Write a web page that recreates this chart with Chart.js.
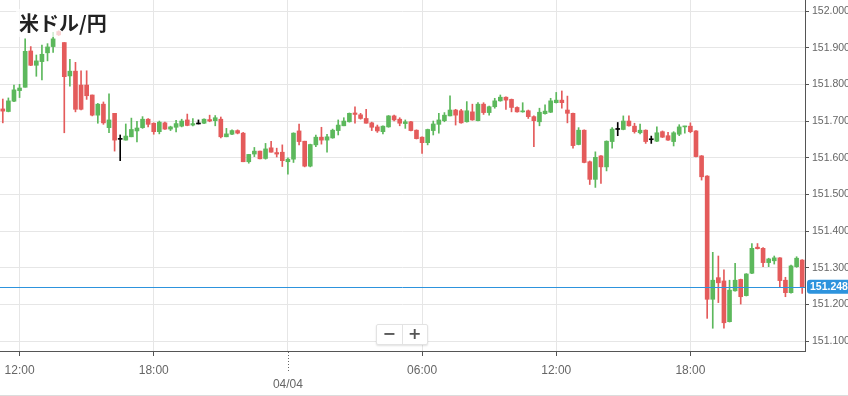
<!DOCTYPE html>
<html>
<head>
<meta charset="utf-8">
<script src="https://cdn.jsdelivr.net/npm/chart.js@4.4.1/dist/chart.umd.min.js"></script>
<style>
body{margin:0;background:#fff;}
#wrap{position:relative;width:848px;height:395px;border-bottom:1px solid #dcdcdc;}
#title{position:absolute;left:16px;top:9px;padding:0 3px;font:bold 20px "Noto Sans CJK JP",sans-serif;line-height:28px;color:#222;background:rgba(255,255,255,0.72);}
#zoombox{position:absolute;left:376px;top:324px;width:50px;height:19px;background:#fff;border:1px solid #e3e3e3;border-radius:2px;box-shadow:0 1px 2px rgba(0,0,0,0.12);display:flex;}
#zoombox span{flex:1;text-align:center;font:bold 16px "DejaVu Sans",sans-serif;line-height:18px;color:#555;}
#zoombox span:first-child{border-right:1px solid #e3e3e3;}
</style>
</head>
<body>
<div id="wrap">
  <canvas id="chart"></canvas>
  <div id="title">米ドル/円</div>
  <div id="zoombox"><span>−</span><span>+</span></div>
</div>
<script>
// 15分足 04/03 11:15 - 04/04 23:00
var times = [
  '11:15','11:30','11:45',
  '12:00','12:15','12:30','12:45','13:00','13:15','13:30','13:45',
  '14:00','14:15','14:30','14:45','15:00','15:15','15:30','15:45',
  '16:00','16:15','16:30','16:45','17:00','17:15','17:30','17:45',
  '18:00','18:15','18:30','18:45','19:00','19:15','19:30','19:45',
  '20:00','20:15','20:30','20:45','21:00','21:15','21:30','21:45',
  '22:00','22:15','22:30','22:45','23:00','23:15','23:30','23:45',
  '00:00','00:15','00:30','00:45','01:00','01:15','01:30','01:45',
  '02:00','02:15','02:30','02:45','03:00','03:15','03:30','03:45',
  '04:00','04:15','04:30','04:45','05:00','05:15','05:30','05:45',
  '06:00','06:15','06:30','06:45','07:00','07:15','07:30','07:45',
  '08:00','08:15','08:30','08:45','09:00','09:15','09:30','09:45',
  '10:00','10:15','10:30','10:45','11:00','11:15','11:30','11:45',
  '12:00','12:15','12:30','12:45','13:00','13:15','13:30','13:45',
  '14:00','14:15','14:30','14:45','15:00','15:15','15:30','15:45',
  '16:00','16:15','16:30','16:45','17:00','17:15','17:30','17:45',
  '18:00','18:15','18:30','18:45','19:00','19:15','19:30','19:45',
  '20:00','20:15','20:30','20:45','21:00','21:15','21:30','21:45',
  '22:00','22:15','22:30','22:45','23:00'
];
var opens = [
  151.733,151.726,151.754,151.783,151.792,151.891,151.852,151.862,151.886,151.903,
  151.944,151.914,151.823,151.836,151.798,151.798,151.771,151.716,151.746,151.682,
  151.721,151.650,151.648,151.657,151.673,151.682,151.705,151.694,151.671,151.695,
  151.678,151.683,151.686,151.703,151.689,151.692,151.694,151.704,151.701,151.705,
  151.657,151.664,151.674,151.667,151.589,151.610,151.618,151.598,151.627,151.614,
  151.615,151.589,151.596,151.673,151.645,151.577,151.635,151.656,151.648,151.654,
  151.674,151.687,151.698,151.722,151.717,151.707,151.695,151.684,151.671,151.684,
  151.714,151.705,151.693,151.698,151.675,151.656,151.641,151.674,151.691,151.701,
  151.714,151.730,151.728,151.698,151.725,151.701,151.746,151.723,151.739,151.755,
  151.765,151.759,151.737,151.725,151.728,151.712,151.698,151.720,151.724,151.750,
  151.757,151.730,151.721,151.636,151.675,151.589,151.541,151.605,151.575,151.644,
  151.677,151.677,151.700,151.686,151.668,151.675,151.649,151.645,151.671,151.660,
  151.644,151.664,151.684,151.686,151.673,151.605,151.550,151.214,151.273,151.264,
  151.153,151.237,151.268,151.224,151.285,151.356,151.353,151.314,151.319,151.327,
  151.266,151.232,151.303,151.321
];
var highs = [
  151.760,151.763,151.798,151.800,151.924,151.903,151.880,151.907,151.911,151.942,
  151.946,151.914,151.868,151.860,151.837,151.837,151.771,151.748,151.752,151.774,
  151.721,151.662,151.692,151.708,151.699,151.712,151.707,151.695,151.700,151.697,
  151.686,151.702,151.705,151.719,151.707,151.703,151.706,151.716,151.715,151.711,
  151.680,151.676,151.676,151.669,151.609,151.628,151.618,151.639,151.645,151.626,
  151.635,151.600,151.668,151.692,151.645,151.637,151.662,151.683,151.664,151.678,
  151.703,151.709,151.722,151.739,151.721,151.732,151.697,151.689,151.687,151.715,
  151.716,151.709,151.703,151.699,151.676,151.657,151.678,151.700,151.721,151.723,
  151.769,151.732,151.732,151.753,151.746,151.750,151.750,151.741,151.762,151.771,
  151.766,151.760,151.739,151.750,151.730,151.714,151.735,151.744,151.762,151.778,
  151.782,151.768,151.722,151.682,151.676,151.591,151.616,151.606,151.646,151.682,
  151.696,151.714,151.714,151.694,151.692,151.676,151.659,151.684,151.673,151.669,
  151.671,151.690,151.686,151.695,151.674,151.606,151.551,151.342,151.332,151.294,
  151.266,151.312,151.269,151.284,151.366,151.366,151.355,151.326,151.332,151.328,
  151.274,151.307,151.330,151.322
];
var lows = [
  151.695,151.725,151.753,151.764,151.792,151.851,151.822,151.812,151.864,151.887,
  151.933,151.668,151.795,151.725,151.730,151.759,151.714,151.694,151.691,151.668,
  151.618,151.592,151.648,151.657,151.643,151.680,151.684,151.664,151.665,151.677,
  151.674,151.670,151.684,151.687,151.687,151.692,151.693,151.698,151.687,151.654,
  151.657,151.663,151.665,151.589,151.585,151.603,151.597,151.596,151.615,151.602,
  151.576,151.555,151.587,151.635,151.575,151.575,151.630,151.637,151.615,151.653,
  151.662,151.687,151.697,151.694,151.705,151.694,151.674,151.669,151.665,151.683,
  151.700,151.687,151.680,151.673,151.651,151.612,151.635,151.662,151.667,151.698,
  151.714,151.689,151.694,151.697,151.702,151.700,151.718,151.716,151.735,151.754,
  151.732,151.725,151.724,151.724,151.707,151.630,151.687,151.719,151.723,151.749,
  151.735,151.695,151.626,151.635,151.586,151.527,151.519,151.530,151.564,151.626,
  151.660,151.676,151.686,151.667,151.665,151.639,151.639,151.644,151.655,151.647,
  151.632,151.660,151.667,151.668,151.602,151.539,151.162,151.135,151.205,151.135,
  151.152,151.236,151.201,151.223,151.284,151.351,151.303,151.303,151.310,151.248,
  151.221,151.231,151.301,151.230
];
var closes = [
  151.727,151.755,151.785,151.790,151.890,151.852,151.864,151.882,151.902,151.924,
  151.935,151.821,151.836,151.732,151.732,151.769,151.716,151.746,151.695,151.703,
  151.648,151.650,151.659,151.677,151.681,151.705,151.691,151.671,151.697,151.678,
  151.684,151.693,151.700,151.688,151.693,151.692,151.705,151.700,151.709,151.657,
  151.665,151.674,151.667,151.589,151.609,151.618,151.597,151.624,151.615,151.610,
  151.592,151.596,151.667,151.644,151.577,151.636,151.656,151.648,151.657,151.675,
  151.689,151.700,151.721,151.718,151.707,151.694,151.683,151.673,151.686,151.714,
  151.703,151.694,151.698,151.674,151.652,151.641,151.677,151.692,151.703,151.716,
  151.730,151.716,151.695,151.728,151.703,151.746,151.723,151.739,151.755,151.765,
  151.757,151.737,151.725,151.727,151.712,151.701,151.724,151.727,151.755,151.757,
  151.750,151.721,151.633,151.675,151.587,151.541,151.601,151.575,151.645,151.678,
  151.677,151.700,151.687,151.671,151.675,151.644,151.649,151.668,151.656,151.648,
  151.668,151.684,151.686,151.671,151.603,151.548,151.214,151.266,151.259,151.150,
  151.239,151.266,151.221,151.283,151.353,151.352,151.314,151.324,151.327,151.265,
  151.232,151.305,151.326,151.248
];
var lastPrice = 151.248;
var majorTimes = ['00:00', '06:00', '12:00', '18:00'];
var dateLabel = '04/04';

var UP = '#5cb85c', DOWN = '#e45b5b', FLAT = '#000000';
var PRICE_BLUE = '#2d93dd';

var colors = opens.map(function(o, i){
    var c = closes[i];
    return c > o ? UP : (c < o ? DOWN : FLAT);
});
var bodies = opens.map(function(o, i){
    return [Math.min(o, closes[i]), Math.max(o, closes[i])];
});
var wicks = lows.map(function(l, i){ return [l, highs[i]]; });

function isMajor(i){ return majorTimes.indexOf(times[i]) !== -1; }

var priceLine = {
    id: 'priceLine',
    afterDatasetsDraw: function(chart){
        var ctx = chart.ctx, a = chart.chartArea;
        var y = Math.round(chart.scales.y.getPixelForValue(lastPrice)) + 0.5;
        ctx.save();
        ctx.strokeStyle = PRICE_BLUE;
        ctx.lineWidth = 1;
        ctx.beginPath();
        ctx.moveTo(a.left, y);
        ctx.lineTo(a.right, y);
        ctx.stroke();
        ctx.restore();
    },
    afterDraw: function(chart){
        var ctx = chart.ctx, a = chart.chartArea;
        var y = chart.scales.y.getPixelForValue(lastPrice);
        var x0 = a.right + 2, w = chart.width - x0, h = 14, r = 3;
        ctx.save();
        ctx.fillStyle = PRICE_BLUE;
        ctx.beginPath();
        ctx.moveTo(x0 + r, y - h / 2);
        ctx.lineTo(x0 + w, y - h / 2);
        ctx.lineTo(x0 + w, y + h / 2);
        ctx.lineTo(x0 + r, y + h / 2);
        ctx.arcTo(x0, y + h / 2, x0, y, r);
        ctx.arcTo(x0, y - h / 2, x0 + r, y - h / 2, r);
        ctx.fill();
        ctx.fillStyle = '#fff';
        ctx.font = 'bold 10.5px "Liberation Sans", Arial, sans-serif';
        ctx.textBaseline = 'middle';
        ctx.fillText(lastPrice.toFixed(3), x0 + 3, y + 0.5);

        // 日付の区切り（点線の目盛）
        var xs = chart.scales.x;
        var idx = times.indexOf('00:00');
        var x = Math.round(xs.getPixelForValue(idx)) + 0.5;
        ctx.strokeStyle = '#666';
        ctx.setLineDash([1, 2]);
        ctx.beginPath();
        ctx.moveTo(x, a.bottom + 1);
        ctx.lineTo(x, a.bottom + 22);
        ctx.stroke();
        ctx.restore();
    }
};

new Chart(document.getElementById('chart'), {
    type: 'bar',
    data: {
        labels: times,
        datasets: [{
            label: 'body',
            data: bodies,
            backgroundColor: colors,
            barThickness: 4,
            minBarLength: 1,
            grouped: false,
            order: 0
        }, {
            label: 'wick',
            data: wicks,
            backgroundColor: colors,
            barThickness: 1,
            grouped: false,
            order: 1
        }]
    },
    options: {
        responsive: true,
        maintainAspectRatio: false,
        animation: false,
        layout: { padding: 0 },
        plugins: { legend: { display: false }, tooltip: { enabled: false } },
        scales: {
            x: {
                offset: true,
                afterFit: function(s){
                    s.height = 44;
                    s.paddingLeft = 0;
                    s.paddingRight = 0;
                },
                border: { color: '#555' },
                grid: {
                    offset: false,
                    tickLength: 5,
                    color: function(c){ return isMajor(c.index) ? '#e6e6e6' : 'rgba(0,0,0,0)'; },
                    tickColor: function(c){
                        return (isMajor(c.index) && times[c.index] !== '00:00') ? '#555' : 'rgba(0,0,0,0)';
                    }
                },
                ticks: {
                    autoSkip: false,
                    maxRotation: 0,
                    padding: 7,
                    color: '#666',
                    font: { size: 12, family: '"Liberation Sans", Arial, sans-serif' },
                    callback: function(v, i){
                        var t = times[i];
                        if (t === '00:00') return ['', dateLabel];
                        return isMajor(i) ? t : '';
                    }
                }
            },
            y: {
                position: 'right',
                min: 151.073,
                max: 152.030,
                afterFit: function(s){
                    s.width = 43;
                    s.paddingTop = 0;
                    s.paddingBottom = 0;
                },
                border: { color: '#555' },
                grid: { color: '#e6e6e6', tickColor: '#555', tickLength: 4 },
                ticks: {
                    stepSize: 0.1,
                    includeBounds: false,
                    padding: 3,
                    color: '#666',
                    font: { size: 10.5, family: '"Liberation Sans", Arial, sans-serif' },
                    callback: function(v){ return v.toFixed(3); }
                }
            }
        }
    },
    plugins: [priceLine]
});
</script>
</body>
</html>
